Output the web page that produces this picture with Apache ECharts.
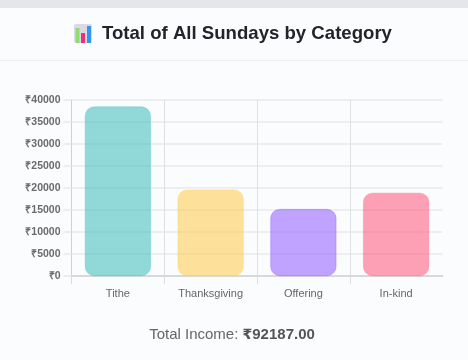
<!DOCTYPE html>
<html><head><meta charset="utf-8">
<style>html,body{margin:0;padding:0;background:#fbfcfe}#c{width:468px;height:360px}</style>
<script src="https://cdn.jsdelivr.net/npm/echarts@6/dist/echarts.min.js"></script>
</head><body><div id="c"></div>
<script>
const categories = ["Tithe","Thanksgiving","Offering","In-kind"];
const totals = [38500,19600,15200,18887];
const barColors = ["rgba(75,192,192,0.6)","rgba(255,205,86,0.6)","rgba(153,102,255,0.6)","rgba(255,99,132,0.6)"];
const edgeColors = ["rgba(75,192,192,0.7)","rgba(255,205,86,0.7)","rgba(153,102,255,0.8)","rgba(255,99,132,0.7)"];
const titleText = "Total of All Sundays by Category";
const footerLabel = "Total Income: ";
const footerCurrency = "₹";
const footerValue = "92187.00";
const font = '"Liberation Sans", Arial, sans-serif';
const chart = echarts.init(document.getElementById('c'), null, {renderer:'canvas'});
chart.setOption({
  animation:false,
  backgroundColor:'#fbfcfe',
  grid:{left:71.5,right:25.5,top:100,bottom:84,containLabel:false},
  xAxis:{type:'category',data:categories,
    axisLine:{lineStyle:{color:'#d8d8d8',width:2}},
    axisTick:{show:true,length:8,alignWithLabel:false,lineStyle:{color:'#dcdcdc'}},
    axisLabel:{color:'#666',fontSize:11,fontFamily:font,margin:12,interval:0},
    splitLine:{show:true,showMaxLine:false,lineStyle:{color:'#e0e0e3',width:1}}},
  yAxis:{type:'value',min:0,max:40000,interval:5000,
    axisLine:{show:true,lineStyle:{color:'#d0d0d0',width:1}},
    axisTick:{show:true,length:8,lineStyle:{color:'#e6e7ea',width:1.5}},
    axisLabel:{color:'#6b6b6b',fontSize:10.5,fontWeight:'bold',fontFamily:font,margin:11,padding:[4,0,0,0],formatter:v=>'₹'+v},
    splitLine:{showMinLine:false,lineStyle:{color:'#eceef0',width:2}}},
  series:[{type:'bar',barWidth:'71%',
    data:totals.map((v,i)=>({value:v,itemStyle:{color:barColors[i],borderColor:edgeColors[i],borderWidth:0.5,borderRadius:9}}))}],
  graphic:[
    {type:'rect',silent:true,z:10,shape:{x:0,y:0,width:468,height:8},style:{fill:'#e5e6e9'}},
    {type:'rect',silent:true,z:10,shape:{x:0,y:60,width:468,height:1},style:{fill:'#eef0f2'}},
    {type:'rect',silent:true,z:10,shape:{x:442,y:277.5,width:3,height:9},style:{fill:'#fbfcfe'}},
    {type:'text',z:10,style:{x:102,y:34,text:titleText,textVerticalAlign:'middle',fill:'#212529',font:'bold 18.6px '+font}},
    {type:'rect',z:10,shape:{x:74,y:24,width:18,height:19,r:2},style:{fill:'#dcd9e2'}},
    {type:'rect',z:11,shape:{x:75.5,y:28,width:4,height:15},style:{fill:'#8fdc74'}},
    {type:'rect',z:11,shape:{x:81,y:33,width:4,height:10},style:{fill:'#e8327c'}},
    {type:'rect',z:11,shape:{x:87,y:26,width:4,height:17},style:{fill:'#2f97ee'}},
    {type:'text',z:10,style:{x:232,y:335,rich:{a:{font:'15px '+font,fill:'#666'},c:{font:'bold 14px "DejaVu Sans"',fill:'#555'},b:{font:'bold 15px '+font,fill:'#555'}},text:'{a|'+footerLabel+'}{c|'+footerCurrency+'}{b|'+footerValue+'}',align:'center',verticalAlign:'middle'}}
  ]
});
</script></body></html>
